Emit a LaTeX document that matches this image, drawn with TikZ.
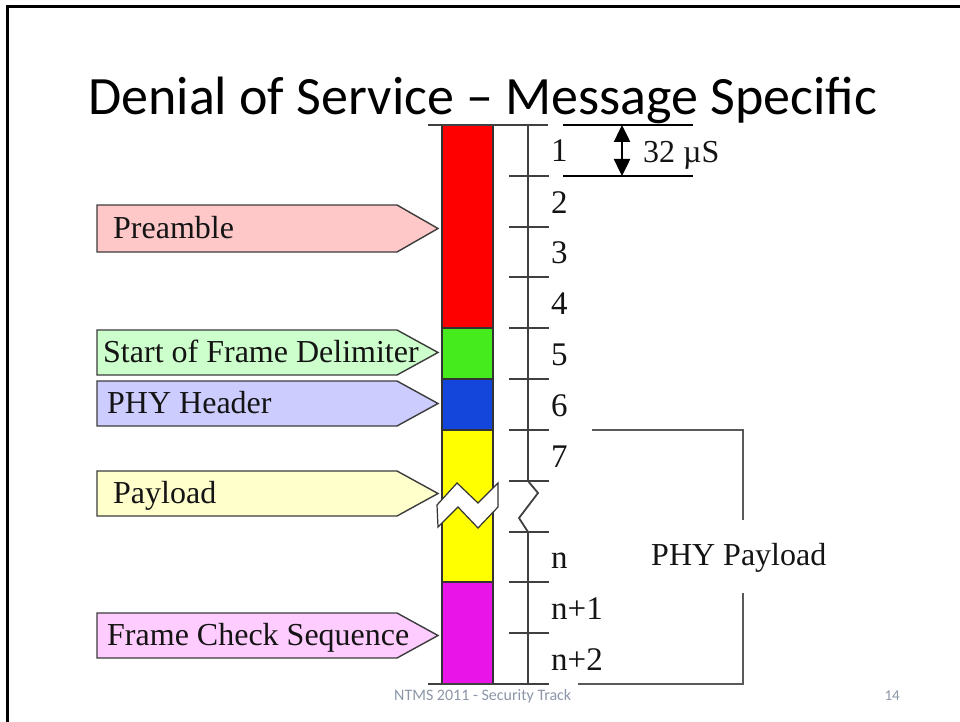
\documentclass[tikz,border=0pt]{standalone}
\usepackage{fontspec}
\setmainfont{Liberation Serif}
\newfontfamily\calibri{Carlito}
\usetikzlibrary{arrows.meta}
\definecolor{barred}{RGB}{255,0,0}
\definecolor{bargreen}{RGB}{70,235,30}
\definecolor{barblue}{RGB}{20,70,220}
\definecolor{baryellow}{RGB}{255,255,0}
\definecolor{barmag}{RGB}{232,20,232}
\definecolor{tagpre}{RGB}{255,200,200}
\definecolor{tagsfd}{RGB}{204,255,204}
\definecolor{tagphy}{RGB}{204,204,255}
\definecolor{tagpay}{RGB}{255,255,204}
\definecolor{tagfcs}{RGB}{255,204,255}
\definecolor{tagline}{RGB}{60,60,60}
\definecolor{footgray}{RGB}{140,150,168}
\newcommand\tagbox[6]{%
  \draw[tagedge, fill=#4] (97,#2) -- (397,#2) -- (438,{(#2+#3)/2}) -- (397,#3) -- (97,#3) -- cycle;
  \node[lbl] (#1) at (#6,{(#2+#3)/2+10}) {#5};}
\begin{document}
\begin{tikzpicture}[x=1pt,y=-1pt,
  tagedge/.style={draw=tagline, line width=1.4pt},
  lbl/.style={anchor=base west, inner sep=0pt, font=\fontsize{32}{38}\selectfont, text=black!92},
  num/.style={anchor=base west, inner sep=0pt, font=\fontsize{33}{38}\selectfont, text=black!92},
  seg/.style={draw=black!80, line width=1.2pt},
  tickline/.style={draw=black!75, line width=1.8pt},
  bracket/.style={draw=black!65, line width=2pt},
  dimline/.style={draw=black, line width=2.5pt}]
\useasboundingbox (0,0) rectangle (960,722);
\fill[white] (0,0) rectangle (960,722);
% slide frame
\draw[line width=3pt, black] (7,722) -- (7,7) -- (960,7);
% title
\node[anchor=base west, inner sep=0pt, font=\calibri\fontsize{54}{64}\selectfont] (title) at (88,115) {Denial of Service – Message Specific};
% bar
\draw[seg, fill=barred] (442,125) rectangle (493,328);
\draw[seg, fill=bargreen] (442,328) rectangle (493,379);
\draw[seg, fill=barblue] (442,379) rectangle (493,430);
\draw[seg, fill=baryellow] (442,430) rectangle (493,582);
\draw[seg, fill=barmag] (442,582) rectangle (493,684);
% break in bar
\draw[fill=white, draw=black!80, line width=1.2pt] (437,505) -- (457,483) -- (478,503) -- (498,483) -- (498,507) -- (478,528) -- (458,507) -- (438,527) -- cycle;
% scale
\draw[tickline] (428,125) -- (548,125);
\draw[tickline] (428,684) -- (549,684);
\foreach \yy in {176,227,277,328,379,430,481,532,582,633}
  \draw[tickline] (509,\yy) -- (549,\yy);
\draw[tickline] (528,125) -- (528,481) -- (538,493) -- (519,518) -- (528,532) -- (528,684);
% numbers
\node[num] (n1) at (551,162) {1};
\node[num] (n2) at (551,213) {2};
\node[num] (n3) at (551,263) {3};
\node[num] (n4) at (551,314) {4};
\node[num] (n5) at (551,365) {5};
\node[num] (n6) at (551,416) {6};
\node[num] (n7) at (551,467) {7};
\node[num] (nn) at (551,568) {n};
\node[num] (nn1) at (551,619) {n+1};
\node[num] (nn2) at (551,670) {n+2};
% 32 us
\coordinate (dt) at (622,125);
\coordinate (db) at (622,176);
\draw[dimline] (563,125) -- (693,125);
\draw[dimline] (563,176) -- (693,176);
\draw[line width=2.5pt, {Triangle[width=16pt,length=17pt]}-{Triangle[width=16pt,length=17pt]}] (dt) -- (db);
\node[anchor=base west, inner sep=0pt, font=\fontsize{32}{38}\selectfont, text=black!92] (us) at (643,163) {32 µS};
% PHY payload bracket
\node[anchor=base west, inner sep=0pt, font=\fontsize{32}{38}\selectfont, text=black!92] (phypay) at (651,565) {PHY Payload};
\draw[bracket] (592,430) -- (743,430) -- (743,520);
\draw[bracket] (743,593) -- (743,684) -- (578,684);
% tags
\tagbox{pre}{205}{252}{tagpre}{Preamble}{113}
\tagbox{sfd}{330}{375}{tagsfd}{Start of Frame Delimiter}{103}
\tagbox{phy}{381}{426}{tagphy}{PHY Header}{107}
\tagbox{pay}{471}{516}{tagpay}{Payload}{113}
\tagbox{fcs}{613}{658}{tagfcs}{Frame Check Sequence}{107}
% footer
\node[anchor=base west, inner sep=0pt, font=\calibri\fontsize{16}{19}\selectfont, text=footgray] (foot) at (394,700) {NTMS 2011 - Security Track};
\node[anchor=base east, inner sep=0pt, font=\calibri\fontsize{15}{18}\selectfont, text=footgray] (page) at (900,700) {14};
\end{tikzpicture}
\end{document}
